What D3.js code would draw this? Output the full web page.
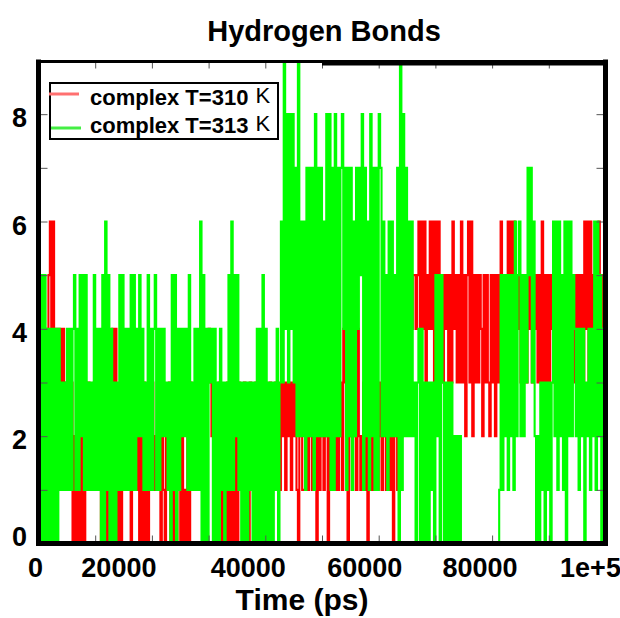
<!DOCTYPE html>
<html>
<head>
<meta charset="utf-8">
<style>
body { margin: 0; background: #fff; }
svg text { font-family: "Liberation Sans", Arial, sans-serif; font-weight: bold; fill: #000; }
.series { fill: none; stroke-width: 2.1px; }
.ticks line { stroke: #555; stroke-width: 1px; }
.ticks .domain { display: none; }
</style>
</head>
<body>
<script src="https://cdn.jsdelivr.net/npm/d3@7"></script>
<script>

// sampling of both runs (ps between stored frames)
var stepPs = 250;

// number of hydrogen bonds, complex at 310 K (one value every 250 ps)
var hbond310 = [
  2,4,1,3,0,4,1,5,6,4,6,4,2,4,3,4,3,4,2,3,
  1,3,2,3,0,2,0,3,0,2,0,2,0,2,1,3,1,2,1,3,
  1,2,1,3,0,2,0,3,0,2,0,3,4,3,4,2,0,2,0,2,
  1,3,1,1,2,0,3,1,2,1,2,0,2,0,3,0,2,0,3,1,
  3,1,2,1,3,1,0,2,1,0,2,1,3,0,2,0,3,0,2,1,
  0,2,0,1,0,2,0,3,1,2,1,3,1,2,1,3,1,2,0,3,
  4,3,2,3,1,2,0,3,0,2,0,2,0,3,0,2,0,2,0,2,
  0,3,1,2,1,3,1,2,0,3,1,2,1,3,0,2,1,3,1,2,
  0,2,1,3,1,2,1,3,1,2,1,3,2,3,1,3,2,3,1,3,
  2,3,1,0,2,3,1,1,2,3,1,3,2,1,2,3,0,2,1,2,
  3,1,3,2,0,2,1,2,3,1,3,1,2,3,1,4,3,2,0,2,
  3,1,3,2,1,4,2,1,2,3,1,3,0,2,3,1,3,2,1,1,
  2,3,1,3,2,1,2,3,1,2,0,2,3,1,3,3,2,4,3,5,
  4,5,3,4,5,5,4,5,6,3,6,4,6,3,5,4,6,4,6,3,
  6,4,6,3,5,3,5,4,5,3,5,3,6,4,5,3,5,3,6,3,
  5,2,5,6,3,6,2,5,3,5,3,5,4,2,5,3,5,3,2,5,
  3,5,2,5,3,5,6,4,5,3,5,6,4,6,4,6,3,5,4,5,
  3,5,4,5,3,5,4,5,3,5,4,5,3,5,3,6,2,5,3,5,
  3,5,4,3,5,4,5,3,5,4,3,5,4,3,5,3,4,5,3,5,
  3,5,4,5,3,6,4,6,3,6,4,5,3,5,4,6,4,5,3,5,4
];

// number of hydrogen bonds, complex at 313 K
var hbond313 = [
  4,0,5,0,5,0,4,0,4,0,4,0,4,0,4,1,3,1,3,1,
  4,1,4,1,4,5,1,4,1,5,2,5,1,5,1,3,1,3,1,5,
  1,4,1,4,0,5,0,6,1,5,0,4,0,3,0,3,1,5,1,5,
  1,4,1,4,1,5,1,5,1,4,2,5,2,4,1,3,1,5,1,4,
  1,4,5,1,4,1,4,2,4,2,3,1,3,0,5,1,5,0,4,1,
  4,2,4,2,4,1,5,1,3,1,4,1,4,1,6,0,5,0,4,0,
  4,3,4,0,4,0,3,0,4,1,3,0,3,1,5,1,6,1,5,2,
  5,1,3,0,3,0,3,0,3,1,3,0,3,0,4,0,4,0,5,0,
  4,0,3,0,3,0,3,1,4,0,3,6,3,9,4,8,3,8,4,8,
  3,7,2,9,2,6,2,6,1,7,2,7,2,7,1,8,2,7,2,7,
  2,6,2,8,2,8,1,7,1,8,2,7,2,7,8,4,7,1,7,2,
  7,1,6,2,7,4,7,5,8,1,7,2,6,1,8,2,7,1,7,1,
  8,7,2,6,2,5,1,6,2,6,2,5,2,7,0,9,1,8,2,7,
  2,6,2,6,2,3,0,3,4,0,4,0,3,0,3,0,3,1,3,0,
  5,2,5,0,5,3,0,3,0,3,0,3,0,2,0,2,0,2,0,0,
  0,0,0,0,0,0,0,0,0,0,0,0,0,0,0,0,0,0,0,0,
  0,0,0,0,0,1,5,1,5,2,5,1,5,2,5,1,6,2,5,6,
  2,5,2,5,3,7,5,7,3,6,2,0,2,0,3,1,3,0,3,1,
  3,0,3,6,2,6,1,6,2,5,1,6,0,6,2,6,2,5,4,2,
  4,1,4,2,4,0,3,2,4,1,4,2,6,1,6,2,5,0,4,2,4
];

var seriesNames = ["complex T=310", "complex T=313"];
var seriesColors = ["#ff0000", "#00ff00"];
var legendColors = ["#ff7070", "#44ee44"];

var xTickValues = [0, 20000, 40000, 60000, 80000, 100000];
var xTickLabels = ["0", "20000", "40000", "60000", "80000", "1e+5"];
var yTickValues = [0, 2, 4, 6, 8];

var width = 620, height = 618;
var plotLeft = 38.5, plotRight = 605.5, plotTop = 60.5, plotBottom = 543.5;

var svg = d3.select("body").append("svg")
    .attr("width", width)
    .attr("height", height);

var x = d3.scaleLinear().domain([0, 100000]).range([plotLeft, plotRight]);
var y = d3.scaleLinear().domain([0, 9]).range([plotBottom, plotTop]);

svg.append("defs").append("clipPath").attr("id", "plot")
  .append("rect")
    .attr("x", plotLeft).attr("y", plotTop)
    .attr("width", plotRight - plotLeft).attr("height", plotBottom - plotTop);

var line = d3.line()
    .x(function(d, i) { return x(i * stepPs); })
    .y(function(d) { return y(d); })
    .curve(d3.curveStepAfter);

// 310 K first, 313 K drawn over it
[hbond310, hbond313].forEach(function(s, k) {
  svg.append("path")
      .datum(s)
      .attr("class", "series")
      .attr("clip-path", "url(#plot)")
      .style("stroke", seriesColors[k])
      .attr("d", line);
});

// small inward ticks on every side
var xMinor = d3.range(0, 100001, 10000);
var yMinor = d3.range(1, 9);
svg.append("g").attr("class", "ticks")
    .attr("transform", "translate(0," + (plotTop + 2) + ")")
    .call(d3.axisTop(x).tickValues(xMinor).tickSize(-6).tickFormat(""));
svg.append("g").attr("class", "ticks")
    .attr("transform", "translate(0," + (plotBottom - 2) + ")")
    .call(d3.axisBottom(x).tickValues(xMinor).tickSize(-6).tickFormat(""));
svg.append("g").attr("class", "ticks")
    .attr("transform", "translate(" + (plotLeft + 2) + ",0)")
    .call(d3.axisLeft(y).tickValues(yMinor).tickSize(-7).tickFormat(""));
svg.append("g").attr("class", "ticks")
    .attr("transform", "translate(" + (plotRight - 2) + ",0)")
    .call(d3.axisRight(y).tickValues(yMinor).tickSize(-7).tickFormat(""));

// frame
var frame = svg.append("g").style("stroke", "#000").style("fill", "none");
frame.append("line").attr("x1", plotLeft).attr("x2", plotLeft).attr("y1", plotTop - 1).attr("y2", plotBottom + 2.5).style("stroke-width", 5);
frame.append("line").attr("x1", plotRight).attr("x2", plotRight).attr("y1", plotTop - 1).attr("y2", plotBottom + 2.5).style("stroke-width", 5);
frame.append("line").attr("x1", plotLeft - 2.5).attr("x2", plotRight + 2.5).attr("y1", plotBottom).attr("y2", plotBottom).style("stroke-width", 5);
frame.append("line").attr("x1", plotLeft - 2.5).attr("x2", plotRight + 2.5).attr("y1", plotTop + 1).attr("y2", plotTop + 1).style("stroke-width", 3);
frame.append("line").attr("x1", x(50000)).attr("x2", plotRight + 2.5).attr("y1", plotTop + 2.5).attr("y2", plotTop + 2.5).style("stroke-width", 5);

// x tick labels (the source figure sets them slightly left of the ticks)
var xLabelShift = [-3, -33, -17, -14, -12, -15];
svg.append("g").selectAll("text")
    .data(xTickValues)
  .enter().append("text")
    .attr("x", function(d, i) { return x(d) + xLabelShift[i]; })
    .attr("y", 577)
    .attr("text-anchor", "middle")
    .style("font-size", "27px")
    .text(function(d, i) { return xTickLabels[i]; });

// y tick labels
svg.append("g").selectAll("text")
    .data(yTickValues)
  .enter().append("text")
    .attr("x", 27)
    .attr("y", function(d) { return Math.min(y(d) + 13, 546); })
    .attr("text-anchor", "end")
    .style("font-size", "27px")
    .text(function(d) { return d; });

// title and axis label
svg.append("text")
    .attr("x", 324).attr("y", 41)
    .attr("text-anchor", "middle")
    .style("font-size", "29px")
    .text("Hydrogen Bonds");

svg.append("text")
    .attr("x", 302).attr("y", 610)
    .attr("text-anchor", "middle")
    .style("font-size", "30px")
    .text("Time (ps)");

// legend
var legend = svg.append("g");
legend.append("rect")
    .attr("x", 50).attr("y", 83)
    .attr("width", 228).attr("height", 56)
    .style("fill", "#fff")
    .style("stroke", "#000")
    .style("stroke-width", 2);

seriesNames.forEach(function(name, k) {
  var ly = 94 + k * 34;
  legend.append("line")
      .attr("x1", 49 + k * 2).attr("x2", 79 + k * 2)
      .attr("y1", ly).attr("y2", ly)
      .style("stroke", legendColors[k])
      .style("stroke-width", 3);
  var t = legend.append("text")
      .attr("x", 90).attr("y", 105 + k * 28)
      .style("font-size", "22px")
      .text(name);
  t.append("tspan")
      .attr("dx", 7).attr("dy", -2)
      .style("font-weight", "normal")
      .text("K");
});

</script>
</body>
</html>
